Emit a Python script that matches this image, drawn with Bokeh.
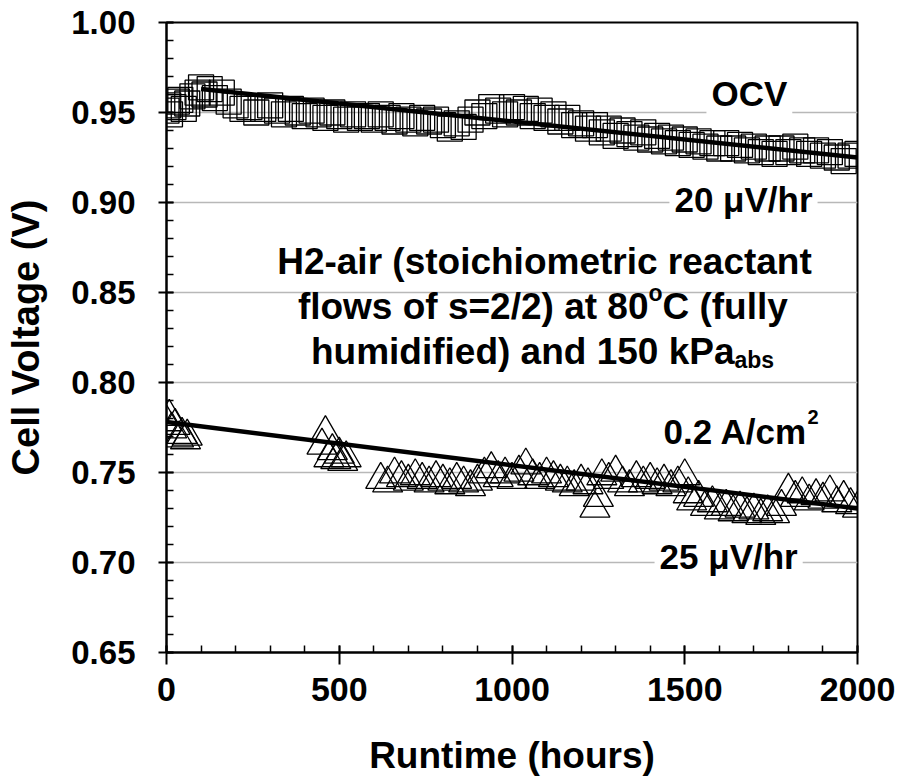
from bokeh.plotting import figure
from bokeh.models import Label, SingleIntervalTicker, PrintfTickFormatter, Range1d, Title
from bokeh.embed import file_html
from bokeh.resources import INLINE

# ---------------- data ----------------
ocv_hours = [0, 5, 10, 20, 30, 40, 50, 60, 75, 90, 100, 110, 125, 140, 160, 180,
             200, 220, 240, 260, 280, 300, 320, 340, 360, 380, 400, 420, 440, 460,
             480, 500, 520, 540, 560, 580, 600, 620, 640, 660, 680, 700, 720, 740,
             760, 780, 800, 820, 840, 860, 880, 900, 920, 940, 960, 980, 1000, 1020,
             1040, 1060, 1080, 1100, 1120, 1140, 1160, 1180, 1200, 1220, 1240, 1260,
             1280, 1300, 1320, 1340, 1360, 1380, 1400, 1420, 1440, 1460, 1480, 1500,
             1520, 1540, 1560, 1580, 1600, 1620, 1640, 1660, 1680, 1700, 1720, 1740,
             1760, 1780, 1800, 1820, 1840, 1860, 1880, 1900, 1920, 1940, 1960, 1980, 2000]
ocv_volts = [0.951, 0.954, 0.949, 0.953, 0.956, 0.957, 0.952, 0.955, 0.959, 0.961,
             0.964, 0.960, 0.963, 0.958, 0.961, 0.956, 0.954, 0.952, 0.953, 0.950,
             0.952, 0.954, 0.951, 0.949, 0.952, 0.950, 0.948, 0.951, 0.949, 0.947,
             0.950, 0.948, 0.946, 0.949, 0.947, 0.948, 0.946, 0.949, 0.947, 0.945,
             0.948, 0.946, 0.944, 0.947, 0.945, 0.946, 0.943, 0.941, 0.944, 0.942,
             0.946, 0.950, 0.948, 0.953, 0.951, 0.949, 0.953, 0.950, 0.952, 0.948,
             0.951, 0.947, 0.949, 0.945, 0.947, 0.943, 0.944, 0.941, 0.943, 0.939,
             0.941, 0.937, 0.940, 0.938, 0.936, 0.939, 0.935, 0.937, 0.934, 0.936,
             0.933, 0.935, 0.932, 0.934, 0.931, 0.933, 0.930, 0.933, 0.930, 0.932,
             0.929, 0.931, 0.928, 0.930, 0.927, 0.930, 0.928, 0.931, 0.929, 0.927,
             0.929, 0.926, 0.928, 0.925, 0.923, 0.926, 0.927]

load_hours = [0, 8, 15, 25, 35, 45, 55, 60, 450, 460, 470, 480, 490, 500, 510, 520,
              620, 640, 660, 680, 700, 720, 740, 760, 780, 800, 820, 840, 860, 880,
              900, 920, 940, 960, 980, 1000, 1020, 1040, 1060, 1080, 1100, 1120, 1140,
              1160, 1180, 1200, 1220, 1240, 1250, 1260, 1280, 1300, 1320, 1340, 1360,
              1380, 1400, 1420, 1440, 1460, 1480, 1500, 1510, 1520, 1540, 1560, 1580,
              1600, 1620, 1640, 1660, 1680, 1700, 1720, 1740, 1760, 1780, 1800, 1820,
              1840, 1860, 1880, 1900, 1920, 1940, 1960, 1980, 2000]
load_volts = [0.778, 0.781, 0.774, 0.776, 0.769, 0.771, 0.768, 0.770, 0.765, 0.772,
              0.758, 0.762, 0.757, 0.760, 0.756, 0.758, 0.746, 0.744, 0.749, 0.747,
              0.745, 0.748, 0.746, 0.744, 0.747, 0.745, 0.743, 0.746, 0.744, 0.742,
              0.745, 0.749, 0.752, 0.747, 0.749, 0.746, 0.750, 0.754, 0.748, 0.746,
              0.749, 0.747, 0.745, 0.744, 0.742, 0.745, 0.743, 0.730, 0.736, 0.748,
              0.746, 0.750, 0.744, 0.742, 0.747, 0.744, 0.746, 0.743, 0.745, 0.742,
              0.744, 0.748, 0.738, 0.734, 0.736, 0.731, 0.733, 0.729, 0.731, 0.728,
              0.730, 0.727, 0.729, 0.726, 0.728, 0.727, 0.731, 0.740, 0.736, 0.738,
              0.734, 0.737, 0.735, 0.739, 0.733, 0.736, 0.732, 0.730]

ocv_fit_hours = [100, 2000]
ocv_fit_volts = [0.963, 0.925]
load_fit_hours = [0, 2000]
load_fit_volts = [0.778, 0.730]

FONT = "Liberation Sans"

p = figure(width=901, height=782,
           x_range=Range1d(0, 2000), y_range=Range1d(0.65, 1.00),
           output_backend="svg", toolbar_location=None,
           min_border_left=166, min_border_right=44,
           min_border_top=22, min_border_bottom=130,
           background_fill_color="white", border_fill_color="white")

p.outline_line_color = "black"
p.outline_line_width = 2
p.xgrid.visible = False
p.ygrid.grid_line_color = "#b8b8b8"
p.ygrid.grid_line_width = 1.5

# axes
p.xaxis.ticker = SingleIntervalTicker(interval=500, num_minor_ticks=5)
p.yaxis.ticker = SingleIntervalTicker(interval=0.05, num_minor_ticks=5)
p.yaxis.formatter = PrintfTickFormatter(format="%.2f")
for ax in (p.xaxis, p.yaxis):
    ax.axis_line_color = "black"
    ax.axis_line_width = 2
    ax.major_tick_line_color = "black"
    ax.major_tick_line_width = 2
    ax.minor_tick_line_color = "black"
    ax.minor_tick_line_width = 1.5
    ax.minor_tick_in = 7
    ax.minor_tick_out = 0
    ax.major_label_text_font = FONT
    ax.major_label_text_font_style = "bold"
    ax.major_label_text_color = "black"
    ax.axis_label_text_font = FONT
    ax.axis_label_text_font_style = "bold"
    ax.axis_label_text_color = "black"

p.xaxis.major_tick_in = 7
p.xaxis.major_tick_out = 12
p.xaxis.major_label_standoff = 13
p.xaxis.major_label_text_font_size = "34px"

p.yaxis.major_tick_in = 7
p.yaxis.major_tick_out = 8
p.yaxis.major_label_standoff = 23
p.yaxis.major_label_text_font_size = "33px"
p.yaxis.axis_label = "Cell Voltage (V)"
p.yaxis.axis_label_text_font_size = "38px"
p.yaxis.axis_label_standoff = 21

# spacer between tick labels and the x-axis title, then the title itself
p.add_layout(Title(text=" ", text_font_size="24px", standoff=0), "below")
p.add_layout(Title(text="Runtime (hours)", align="center", offset=45,
                   text_font=FONT, text_font_style="bold", text_font_size="37px",
                   text_color="black", standoff=0), "below")

# data marks
p.scatter(ocv_hours, ocv_volts, marker="square", size=25,
          fill_color=None, line_color="black", line_width=1.3)
p.scatter(load_hours, load_volts, marker="triangle", size=30,
          fill_color=None, line_color="black", line_width=1.3)
p.line(ocv_fit_hours, ocv_fit_volts, line_color="black", line_width=4.5)
p.line(load_fit_hours, load_fit_volts, line_color="black", line_width=4.5)

RAISE = 12


def lab(x, y, text, size, align="center", yoff=0, xoff=0, bg=False):
    kw = dict(x=x, y=y, text=text, text_font=FONT, text_font_style="bold",
              text_font_size=f"{size}px", text_color="black",
              text_align=align, text_baseline="alphabetic",
              x_offset=xoff, y_offset=yoff + RAISE)
    if bg:
        kw.update(background_fill_color="white", padding=5)
    p.add_layout(Label(**kw))


BIG = 35
BLOCK = 37
SMALL = 23
lab(1687, 0.9539, "OCV", BIG, bg=True)
lab(1670, 0.8950, "20 \u03bcV/hr", BIG, bg=True)
lab(1094, 0.8606, "H2-air (stoichiometric reactant", BLOCK)
lab(1395, 0.8356, "flows of s=2/2) at 80", BLOCK, align="right")
lab(1395, 0.8356, "o", SMALL, align="left", yoff=13)
lab(1395, 0.8356, "C (fully", BLOCK, align="left", xoff=14)
lab(1644, 0.8106, "humidified) and 150 kPa", BLOCK, align="right")
lab(1644, 0.8106, "abs", SMALL, align="left", yoff=-9)
lab(1855, 0.7661, "0.2 A/cm", BIG, align="right")
lab(1855, 0.7661, "2", 20, align="left", yoff=15)
lab(1627, 0.6967, "25 \u03bcV/hr", BIG, bg=True)

open("out.html", "w").write(file_html(p, INLINE))
